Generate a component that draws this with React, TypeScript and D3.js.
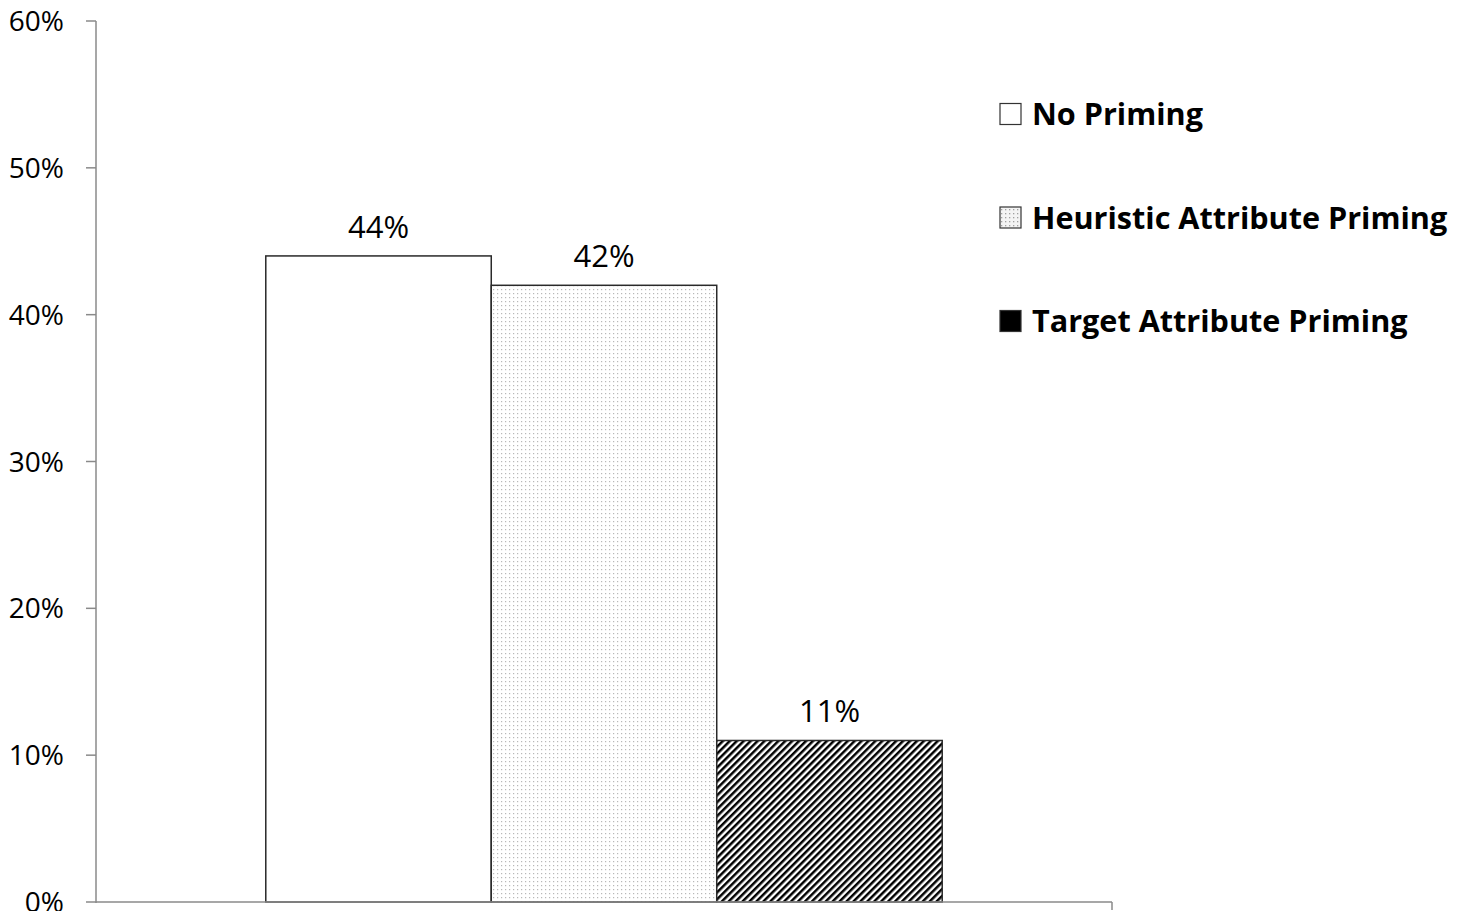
import React from "react";
import * as d3 from "d3";

const seriesNames = ["No Priming", "Heuristic Attribute Priming", "Target Attribute Priming"];
const seriesValues = [0.44, 0.42, 0.11];
const yTicks = [0, 0.1, 0.2, 0.3, 0.4, 0.5, 0.6];
const categories = ["All"];

const W = 1467;
const H = 911;
const margin = { left: 96, top: 21 };

export default function App() {
  const y = d3.scaleLinear().domain([0, 0.6]).range([902, margin.top]);
  const x0 = d3.scaleBand().domain(categories).range([margin.left, 1112]).paddingInner(0).paddingOuter(0.251);
  const x1 = d3.scaleBand().domain(seriesNames).range([0, x0.bandwidth()]).padding(0);
  const fmt = d3.format(".0%");
  const fills = ["#ffffff", "url(#dots)", "url(#hatch)"];
  const legendFills = ["#ffffff", "url(#dotsL)", "#000000"];
  const font = "'Open Sans', 'Noto Sans', sans-serif";

  return (
    <svg
      width={W}
      height={H}
      style={{ position: "absolute", left: 0, top: 0, background: "#fff" }}
      fontFamily={font}
    >
      <defs>
        <pattern id="dots" width="4" height="4" patternUnits="userSpaceOnUse">
          <rect width="4" height="4" fill="#ffffff" />
          <rect x="1" y="1" width="1.2" height="1.2" fill="#b8b8b8" />
        </pattern>
        <pattern id="dotsL" width="4" height="4" patternUnits="userSpaceOnUse">
          <rect width="4" height="4" fill="#f4f4f4" />
          <rect x="1" y="1" width="1.3" height="1.3" fill="#a0a0a0" />
        </pattern>
        <pattern id="hatch" width="4.9" height="4.9" patternUnits="userSpaceOnUse" patternTransform="rotate(45)">
          <rect width="4.9" height="4.9" fill="#ffffff" />
          <rect x="0" y="0" width="2.5" height="4.9" fill="#000000" />
        </pattern>
      </defs>

      {/* bars */}
      {categories.map((c) =>
        seriesNames.map((s, i) => {
          const bx = (x0(c) as number) + (x1(s) as number);
          const by = y(seriesValues[i]);
          return (
            <g key={s}>
              <rect
                x={bx}
                y={by}
                width={x1.bandwidth()}
                height={y(0) - by}
                fill={fills[i]}
                stroke="#2a2a2a"
                strokeWidth={1.5}
              />
              <text
                x={bx + x1.bandwidth() / 2}
                y={by - 18}
                textAnchor="middle"
                fontSize={31}
                fill="#000"
              >
                {fmt(seriesValues[i])}
              </text>
            </g>
          );
        })
      )}

      {/* y axis */}
      <line x1={margin.left} x2={margin.left} y1={y(0.6)} y2={y(0) + 1} stroke="#8a8a8a" strokeWidth={1.5} />
      {yTicks.map((t) => (
        <g key={t}>
          <line x1={margin.left - 10} x2={margin.left} y1={y(t)} y2={y(t)} stroke="#8a8a8a" strokeWidth={1.5} />
          <text x={64} y={y(t) + 10} textAnchor="end" fontSize={28} fill="#000">
            {fmt(t)}
          </text>
        </g>
      ))}

      {/* x axis */}
      <line x1={margin.left} x2={1112} y1={y(0)} y2={y(0)} stroke="#8a8a8a" strokeWidth={1.5} />
      <line x1={1112} x2={1112} y1={y(0)} y2={y(0) + 8} stroke="#8a8a8a" strokeWidth={1.5} />

      {/* legend */}
      {seriesNames.map((s, i) => {
        const cy = 114 + i * 103.5;
        return (
          <g key={s}>
            <rect x={1000} y={cy - 10.5} width={21} height={21} fill={legendFills[i]} stroke="#333" strokeWidth={1.2} />
            <text x={1032} y={cy + 11} fontSize={30.6} fontWeight={700} fill="#000">
              {s}
            </text>
          </g>
        );
      })}
    </svg>
  );
}
